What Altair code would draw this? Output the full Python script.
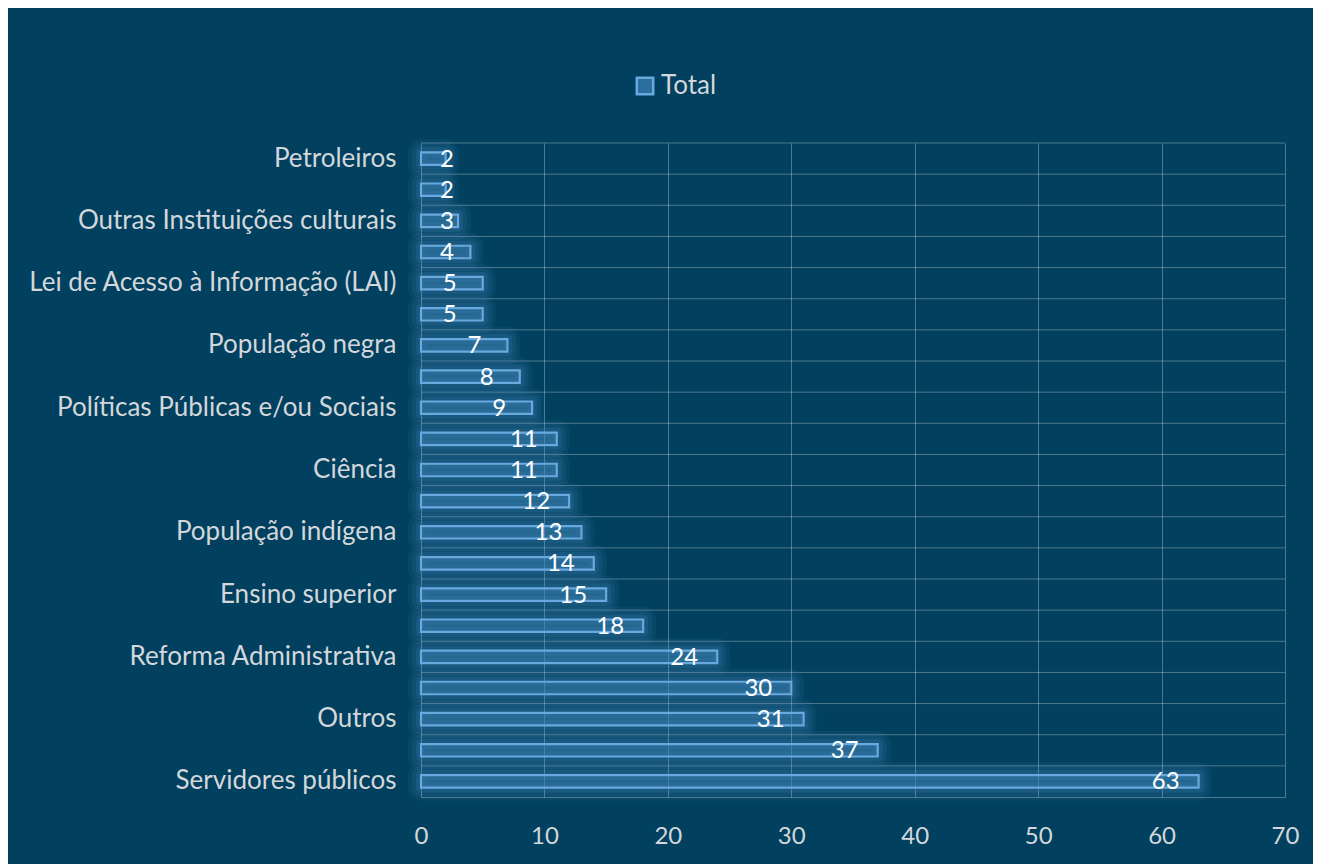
import altair as alt
import pandas as pd

categories = [
    "Petroleiros", " ", "Outras Instituições culturais", "  ",
    "Lei de Acesso à Informação (LAI)", "   ", "População negra", "    ",
    "Políticas Públicas e/ou Sociais", "     ", "Ciência", "      ",
    "População indígena", "       ", "Ensino superior", "        ",
    "Reforma Administrativa", "         ", "Outros", "          ",
    "Servidores públicos",
]
values = [2, 2, 3, 4, 5, 5, 7, 8, 9, 11, 11, 12, 13, 14, 15, 18, 24, 30, 31, 37, 63]
series_name = "Total"
x_ticks = [0, 10, 20, 30, 40, 50, 60, 70]

df = pd.DataFrame({"cat": categories, "v": values, "series": [series_name] * len(values)})

FONT = "Lato"
BG = "#01405E"
STROKE = "#5B9BD5"
LABEL = "#D3D7DB"

yscale = alt.Scale(paddingInner=0, paddingOuter=0)
y_axis = alt.Axis(ticks=False, domain=False, grid=False, labelPadding=25, labelLimit=420,
                  labelFontSize=26, labelFont=FONT, labelColor=LABEL)
y_enc = alt.Y("cat:N", sort=categories, scale=yscale, title=None, axis=y_axis)
xscale = alt.Scale(domain=[0, 70], nice=False)
x_axis = alt.Axis(values=x_ticks, grid=True, gridColor="#FFFFFF", gridOpacity=0.3,
                  domain=True, domainColor="#FFFFFF", domainOpacity=0.3, ticks=False,
                  labelFlush=False, labelPadding=27, labelFontSize=24, labelFont=FONT,
                  labelColor=LABEL)

base = alt.Chart(df)

rules = base.mark_rule(color="#FFFFFF", opacity=0.3, strokeWidth=1).encode(
    y=alt.Y("cat:N", sort=categories, scale=yscale, bandPosition=0, title=None, axis=y_axis)
)

def glow(sw, op):
    return base.mark_bar(height={"band": 0.4}, fill=STROKE, fillOpacity=op, stroke=STROKE,
                         strokeOpacity=op, strokeWidth=sw, strokeJoin="round").encode(
        x=alt.X("v:Q", scale=xscale, axis=x_axis, title=None), y=y_enc)

bars = base.mark_bar(height={"band": 0.4}, stroke="#6AA8E0", strokeWidth=2.2, fillOpacity=0.25).encode(
    x=alt.X("v:Q", scale=xscale, axis=x_axis, title=None),
    y=y_enc,
    color=alt.Color("series:N", scale=alt.Scale(range=["#2A6EA0"]),
                    legend=alt.Legend(title=None, orient="none", legendX=211, legendY=-70,
                                      symbolType="square", symbolSize=270,
                                      symbolStrokeColor="#6AA8E0", symbolStrokeWidth=2.5,
                                      symbolFillColor="#0F4F78", symbolOpacity=1,
                                      labelFontSize=26, labelFont=FONT, labelColor=LABEL,
                                      labelOffset=3, padding=0)),
)

texts = base.transform_calculate(lx="max(datum.v - 2.67, 2.1)").mark_text(
    color="white", fontSize=24, font=FONT, align="center", baseline="middle", dy=1
).encode(
    x=alt.X("lx:Q", scale=xscale, axis=x_axis, title=None),
    y=y_enc,
    text="v:Q",
)

chart = alt.layer(rules, glow(26, 0.08), glow(18, 0.1), glow(10, 0.13), bars, texts).properties(
    width=864, height=654,
    padding={"left": 413, "top": 135, "right": 28, "bottom": 67},
    autosize=alt.AutoSizeParams(type="none"),
).configure(background=BG).configure_view(stroke=None)

chart.save("out.html", embed_options={"renderer": "svg", "actions": False})
